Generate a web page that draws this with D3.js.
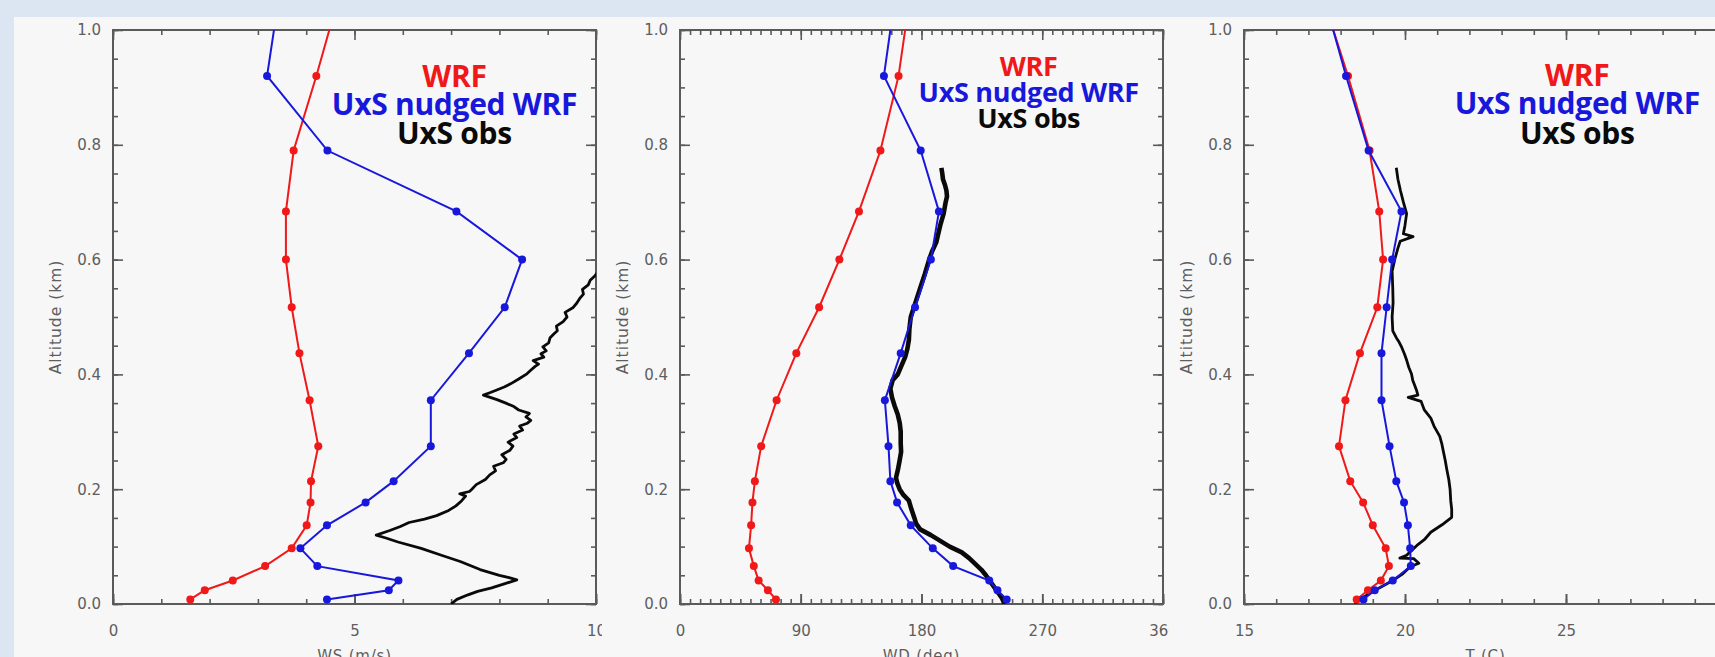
<!DOCTYPE html>
<html>
<head>
<meta charset="utf-8">
<script src="https://cdn.jsdelivr.net/npm/d3@7"></script>
<style>
  html, body { margin: 0; padding: 0; background: #f7f7f7; }
  svg { display: block; }
</style>
</head>
<body>
<svg id="chart" width="1715" height="657"></svg>
<script>
// ---------------- DATA ----------------
// model levels (km) shared by WRF and UxS-nudged WRF profiles
const altLevels = [0.008, 0.024, 0.041, 0.066, 0.097, 0.137, 0.177, 0.214, 0.275, 0.355, 0.437, 0.517, 0.600, 0.684, 0.790, 0.920, 1.06];

// Wind speed (m/s)
const wsWRF    = [1.60, 1.90, 2.48, 3.15, 3.70, 4.01, 4.09, 4.10, 4.25, 4.07, 3.86, 3.70, 3.58, 3.58, 3.74, 4.21, 4.68];
const wsNudged = [4.43, 5.71, 5.91, 4.23, 3.88, 4.43, 5.23, 5.81, 6.58, 6.58, 7.37, 8.11, 8.47, 7.11, 4.44, 3.19, 3.44];
const wsObsAlt = [0.000, 0.008, 0.016, 0.022, 0.028, 0.035, 0.042, 0.046, 0.050, 0.060, 0.074, 0.085, 0.097, 0.108, 0.115, 0.120, 0.128, 0.135, 0.142, 0.148, 0.154, 0.163, 0.171, 0.180, 0.188, 0.192, 0.196, 0.200, 0.208, 0.217, 0.225, 0.232, 0.240, 0.246, 0.252, 0.260, 0.268, 0.275, 0.282, 0.290, 0.296, 0.303, 0.310, 0.315, 0.320, 0.326, 0.332, 0.338, 0.344, 0.349, 0.356, 0.364, 0.368, 0.372, 0.378, 0.384, 0.392, 0.401, 0.408, 0.414, 0.418, 0.424, 0.430, 0.436, 0.441, 0.448, 0.455, 0.464, 0.470, 0.476, 0.484, 0.492, 0.500, 0.508, 0.516, 0.524, 0.532, 0.540, 0.548, 0.556, 0.564, 0.572, 0.580, 0.590, 0.600];
const wsObs    = [7.00, 7.12, 7.35, 7.55, 7.84, 8.10, 8.36, 8.20, 8.00, 7.60, 7.19, 6.80, 6.38, 5.90, 5.65, 5.45, 5.73, 5.95, 6.13, 6.45, 6.70, 6.95, 7.10, 7.22, 7.30, 7.18, 7.38, 7.43, 7.52, 7.71, 7.80, 7.92, 7.88, 8.08, 8.14, 8.05, 8.22, 8.28, 8.18, 8.36, 8.30, 8.48, 8.42, 8.58, 8.65, 8.55, 8.62, 8.40, 8.30, 8.16, 7.95, 7.67, 7.80, 7.92, 8.10, 8.24, 8.40, 8.57, 8.66, 8.74, 8.81, 8.70, 8.92, 8.86, 8.97, 8.90, 9.02, 9.05, 9.12, 9.20, 9.18, 9.32, 9.40, 9.36, 9.52, 9.60, 9.66, 9.74, 9.72, 9.84, 9.88, 9.98, 10.05, 10.2, 10.4];

// Wind direction (deg)
const wdWRF    = [71.5, 65.5, 58.6, 55.0, 51.4, 53.0, 54.0, 55.8, 60.5, 72.0, 86.7, 103.7, 118.8, 133.4, 149.4, 162.9, 171.5];
const wdNudged = [243.5, 236.6, 230.5, 203.6, 188.4, 172.0, 161.8, 156.8, 155.4, 152.7, 164.5, 175.2, 187.0, 193.0, 179.4, 152.0, 160.4];
const wdObsAlt = [0.000, 0.010, 0.020, 0.035, 0.050, 0.060, 0.070, 0.080, 0.090, 0.100, 0.110, 0.120, 0.130, 0.140, 0.150, 0.165, 0.180, 0.190, 0.200, 0.210, 0.220, 0.235, 0.250, 0.265, 0.280, 0.300, 0.315, 0.330, 0.345, 0.360, 0.375, 0.390, 0.400, 0.415, 0.430, 0.445, 0.460, 0.480, 0.500, 0.525, 0.550, 0.575, 0.600, 0.615, 0.630, 0.645, 0.660, 0.680, 0.700, 0.710, 0.720, 0.730, 0.740, 0.750, 0.760];
const wdObs    = [242.0, 240.0, 237.0, 232.5, 228.0, 224.5, 220.0, 215.5, 210.0, 201.0, 194.0, 187.0, 179.0, 176.0, 174.7, 172.5, 170.6, 166.5, 163.7, 162.0, 161.0, 162.5, 163.7, 164.8, 164.5, 164.5, 163.8, 162.3, 160.0, 158.0, 156.8, 158.5, 162.3, 165.0, 167.8, 169.5, 170.6, 171.0, 172.0, 175.5, 179.0, 182.5, 185.7, 188.0, 191.0, 192.5, 194.0, 196.5, 198.0, 199.0, 198.6, 197.5, 196.0, 195.5, 194.8];

// Temperature (C)
const tWRF    = [18.50, 18.85, 19.25, 19.50, 19.40, 19.00, 18.70, 18.30, 17.95, 18.15, 18.60, 19.14, 19.32, 19.20, 18.90, 18.23, 17.43];
const tNudged = [18.71, 19.06, 19.62, 20.18, 20.16, 20.09, 19.97, 19.73, 19.52, 19.27, 19.27, 19.43, 19.60, 19.89, 18.87, 18.17, 17.47];
const tObsAlt = [0.000, 0.010, 0.025, 0.041, 0.053, 0.065, 0.071, 0.079, 0.080, 0.085, 0.093, 0.102, 0.112, 0.125, 0.138, 0.151, 0.165, 0.180, 0.200, 0.217, 0.234, 0.250, 0.269, 0.280, 0.292, 0.310, 0.324, 0.338, 0.353, 0.360, 0.364, 0.372, 0.381, 0.390, 0.401, 0.412, 0.425, 0.436, 0.447, 0.456, 0.464, 0.476, 0.500, 0.525, 0.550, 0.580, 0.600, 0.620, 0.632, 0.640, 0.645, 0.660, 0.680, 0.700, 0.720, 0.740, 0.760];
const tObs    = [18.44, 18.66, 19.10, 19.62, 19.94, 20.16, 20.43, 20.27, 19.84, 20.05, 20.20, 20.37, 20.60, 20.80, 21.15, 21.45, 21.45, 21.42, 21.40, 21.36, 21.30, 21.25, 21.18, 21.14, 21.08, 20.90, 20.80, 20.60, 20.50, 20.10, 20.40, 20.36, 20.30, 20.24, 20.20, 20.12, 20.05, 19.98, 19.90, 19.82, 19.73, 19.62, 19.60, 19.63, 19.62, 19.60, 19.68, 19.78, 19.85, 20.25, 19.95, 20.00, 20.05, 19.95, 19.86, 19.78, 19.73];

// axis setup
const altTicks = [0.0, 0.2, 0.4, 0.6, 0.8, 1.0];
const wsTicks = [0, 5, 10];
const wdTicks = [0, 90, 180, 270, 360];
const tTicks = [15, 20, 25];
const axisTitles = ["WS (m/s)", "WD (deg)", "T (C)"];
const legendLabels = ["WRF", "UxS nudged WRF", "UxS obs"];

// ---------------- LAYOUT ----------------
const svg = d3.select("#chart");
const W = 1715, H = 657;
const plotTop = 30, plotBottom = 604, plotW = 483;
const panelLefts = [113, 680, 1244];

const colRed = "#f01818", colBlue = "#1818dc", colObs = "#0a0a0a";
const axisCol = "#5a5a5a", labelCol = "#5e5e5e";

svg.append("rect").attr("x", 0).attr("y", 0).attr("width", W).attr("height", H).attr("fill", "#f7f7f7");
svg.append("rect").attr("x", 0).attr("y", 0).attr("width", W).attr("height", 17).attr("fill", "#dce6f2");
svg.append("rect").attr("x", 0).attr("y", 0).attr("width", 14).attr("height", H).attr("fill", "#dce6f2");

const panels = [
  { domain: [0, 10], major: wsTicks, minorStep: 1, wrf: wsWRF, nud: wsNudged, obsAlt: wsObsAlt, obs: wsObs, obsW: 2.8,
    legend: { fx: 0.707, y: [76, 104.5, 133], size: 30 } },
  { domain: [0, 360], major: wdTicks, minorStep: 7.5, wrf: wdWRF, nud: wdNudged, obsAlt: wdObsAlt, obs: wdObs, obsW: 4.6,
    legend: { fx: 0.722, y: [66, 92, 118], size: 27 } },
  { domain: [15, 30], major: tTicks, minorStep: 1, wrf: tWRF, nud: tNudged, obsAlt: tObsAlt, obs: tObs, obsW: 2.8,
    legend: { fx: 0.69, y: [75, 103.5, 133], size: 30 } }
];

const y = d3.scaleLinear().domain([0, 1]).range([plotBottom, plotTop]);
const altMinor = d3.range(0, 1.0001, 0.05);

panels.forEach((p, i) => {
  const left = panelLefts[i];
  const right = left + plotW;
  const x = d3.scaleLinear().domain(p.domain).range([left, right]);
  const minorTicks = d3.range(p.domain[0], p.domain[1] + 1e-6, p.minorStep);
  const majorAll = d3.range(p.domain[0], p.domain[1] + 1e-6, p.major[1] - p.major[0]);

  const clipId = "clip" + i;
  svg.append("clipPath").attr("id", clipId)
    .append("rect").attr("x", left).attr("y", plotTop).attr("width", plotW).attr("height", plotBottom - plotTop);
  const labClip = "lclip" + i;
  svg.append("clipPath").attr("id", labClip)
    .append("rect").attr("x", left - 80).attr("y", 0).attr("width", plotW + 86).attr("height", H);

  const g = svg.append("g").attr("clip-path", `url(#${labClip})`);

  // frame
  g.append("rect").attr("x", left).attr("y", plotTop).attr("width", plotW).attr("height", plotBottom - plotTop)
    .attr("fill", "none").attr("stroke", axisCol).attr("stroke-width", 2);

  function styleAxis(sel) {
    sel.select(".domain").remove();
    sel.selectAll(".tick line").attr("stroke", axisCol).attr("stroke-width", 1.6);
    sel.selectAll("text").attr("fill", labelCol).attr("font-family", "DejaVu Sans, sans-serif").attr("font-size", 15);
  }

  // bottom axis (labels + major)
  g.append("g").attr("transform", `translate(0,${plotBottom})`)
    .call(d3.axisBottom(x).tickValues(p.major).tickSize(-10).tickPadding(21).tickFormat(d3.format("d")))
    .call(styleAxis);
  g.append("g").attr("transform", `translate(0,${plotBottom})`)
    .call(d3.axisBottom(x).tickValues(majorAll).tickSize(-10).tickFormat(""))
    .call(styleAxis);
  g.append("g").attr("transform", `translate(0,${plotBottom})`)
    .call(d3.axisBottom(x).tickValues(minorTicks).tickSize(-5).tickFormat(""))
    .call(styleAxis);
  // top axis
  g.append("g").attr("transform", `translate(0,${plotTop})`)
    .call(d3.axisTop(x).tickValues(majorAll).tickSize(-10).tickFormat(""))
    .call(styleAxis);
  g.append("g").attr("transform", `translate(0,${plotTop})`)
    .call(d3.axisTop(x).tickValues(minorTicks).tickSize(-5).tickFormat(""))
    .call(styleAxis);
  // left axis
  g.append("g").attr("transform", `translate(${left},0)`)
    .call(d3.axisLeft(y).tickValues(altTicks).tickSize(-10).tickPadding(12).tickFormat(d3.format(".1f")))
    .call(styleAxis);
  g.append("g").attr("transform", `translate(${left},0)`)
    .call(d3.axisLeft(y).tickValues(altMinor).tickSize(-5).tickFormat(""))
    .call(styleAxis);
  // right axis
  g.append("g").attr("transform", `translate(${right},0)`)
    .call(d3.axisRight(y).tickValues(altTicks).tickSize(-10).tickFormat(""))
    .call(styleAxis);
  g.append("g").attr("transform", `translate(${right},0)`)
    .call(d3.axisRight(y).tickValues(altMinor).tickSize(-5).tickFormat(""))
    .call(styleAxis);

  // axis titles (cut at the bottom edge, as in the reference)
  g.append("text").attr("x", (left + right) / 2).attr("y", 661)
    .attr("text-anchor", "middle").attr("fill", labelCol)
    .attr("font-family", "DejaVu Sans, sans-serif").attr("font-size", 15).attr("letter-spacing", "0.8")
    .text(axisTitles[i]);
  svg.append("text")
    .attr("transform", `translate(${left - 57},${(plotTop + plotBottom) / 2}) rotate(-90)`)
    .attr("text-anchor", "middle").attr("dy", "0.35em").attr("fill", labelCol)
    .attr("font-family", "DejaVu Sans, sans-serif").attr("font-size", 15.5).attr("letter-spacing", "1")
    .text("Altitude (km)");

  // data
  const pg = svg.append("g").attr("clip-path", `url(#${clipId})`);
  const lineModel = d3.line().x(d => x(d[1])).y(d => y(d[0]));

  const obsPts = p.obsAlt.map((a, k) => [a, p.obs[k]]);
  pg.append("path").datum(obsPts).attr("d", lineModel)
    .attr("fill", "none").attr("stroke", colObs).attr("stroke-width", p.obsW).attr("stroke-linejoin", "round");

  [[p.wrf, colRed], [p.nud, colBlue]].forEach(([vals, col]) => {
    const pts = altLevels.map((a, k) => [a, vals[k]]);
    pg.append("path").datum(pts).attr("d", lineModel)
      .attr("fill", "none").attr("stroke", col).attr("stroke-width", 2);
    pg.selectAll(null).data(pts).join("circle")
      .attr("cx", d => x(d[1])).attr("cy", d => y(d[0])).attr("r", 4).attr("fill", col);
  });

  // legend
  const lx = left + p.legend.fx * plotW;
  [colRed, colBlue, colObs].forEach((c, k) => {
    svg.append("text").attr("x", lx).attr("y", p.legend.y[k]).attr("dy", "0.36em")
      .attr("text-anchor", "middle").attr("fill", c)
      .attr("font-family", "Open Sans, sans-serif").attr("font-weight", 700)
      .attr("font-size", p.legend.size).attr("letter-spacing", "-0.3")
      .text(legendLabels[k]);
  });
});
</script>
</body>
</html>
